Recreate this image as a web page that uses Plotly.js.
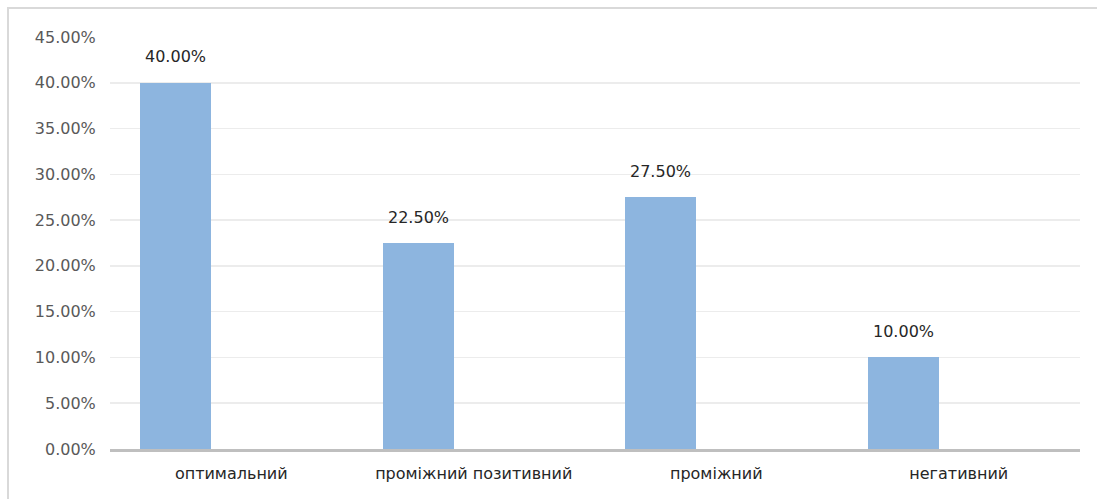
<!DOCTYPE html>
<html>
<head>
<meta charset="utf-8">
<script src="https://cdn.plot.ly/plotly-3.0.1.min.js"></script>
<style>
  html, body { margin: 0; padding: 0; background: #ffffff; }
  #wrap { position: relative; width: 1097px; height: 499px; overflow: hidden; }
  #frame { position: absolute; left: 7px; top: 7px; right: -5px; bottom: -5px;
           border-top: 2px solid #d9d9d9; border-left: 2px solid #d9d9d9; pointer-events: none; }
  #chart { position: absolute; left: 0; top: 0; width: 1097px; height: 499px; }
</style>
</head>
<body>
<div id="wrap">
  <div id="chart"></div>
  <div id="frame"></div>
</div>
<script>
// Data
const categories = ["оптимальний", "проміжний позитивний", "проміжний", "негативний"];
const values = [0.40, 0.225, 0.275, 0.10];
const valueLabels = ["40.00%", "22.50%", "27.50%", "10.00%"];
const tickVals = [0, 0.05, 0.10, 0.15, 0.20, 0.25, 0.30, 0.35, 0.40, 0.45];
const tickText = ["0.00%", "5.00%", "10.00%", "15.00%", "20.00%", "25.00%", "30.00%", "35.00%", "40.00%", "45.00%"];

const barOffset = -0.376;
const barWidth = 0.293;
const idx = categories.map((c, i) => i);

const trace = {
  type: "bar",
  x: idx,
  y: values,
  width: categories.map(() => barWidth),
  offset: categories.map(() => barOffset),
  marker: { color: "#8db5df", line: { width: 0 } },
  hoverinfo: "none"
};

const annotations = idx.map(i => ({
  x: i + barOffset + barWidth / 2,
  y: values[i],
  xref: "x",
  yref: "y",
  text: valueLabels[i],
  showarrow: false,
  yanchor: "middle",
  yshift: 26,
  font: { family: "DejaVu Sans", size: 16, color: "#262626" }
}));

const layout = {
  width: 1097,
  height: 499,
  margin: { l: 110, r: 17, t: 37, b: 50, pad: 0 },
  paper_bgcolor: "rgba(0,0,0,0)",
  plot_bgcolor: "#ffffff",
  showlegend: false,
  bargap: 0,
  xaxis: {
    type: "linear",
    range: [-0.5, categories.length - 0.5],
    tickmode: "array",
    tickvals: idx,
    ticktext: categories,
    showgrid: false,
    zeroline: false,
    showline: true,
    linecolor: "#bfbfbf",
    linewidth: 3,
    ticks: "outside",
    ticklen: 8,
    tickcolor: "rgba(0,0,0,0)",
    tickfont: { family: "DejaVu Sans", size: 16, color: "#262626" },
    fixedrange: true
  },
  yaxis: {
    range: [0, 0.45],
    tickmode: "array",
    tickvals: tickVals,
    ticktext: tickText,
    showgrid: true,
    gridcolor: "#ececec",
    gridwidth: 1.5,
    zeroline: false,
    showline: false,
    ticks: "outside",
    ticklen: 10,
    tickcolor: "rgba(0,0,0,0)",
    tickfont: { family: "DejaVu Sans", size: 16, color: "#595959" },
    fixedrange: true
  },
  annotations: annotations
};

Plotly.newPlot("chart", [trace], layout, { staticPlot: true, displayModeBar: false });
</script>
</body>
</html>
